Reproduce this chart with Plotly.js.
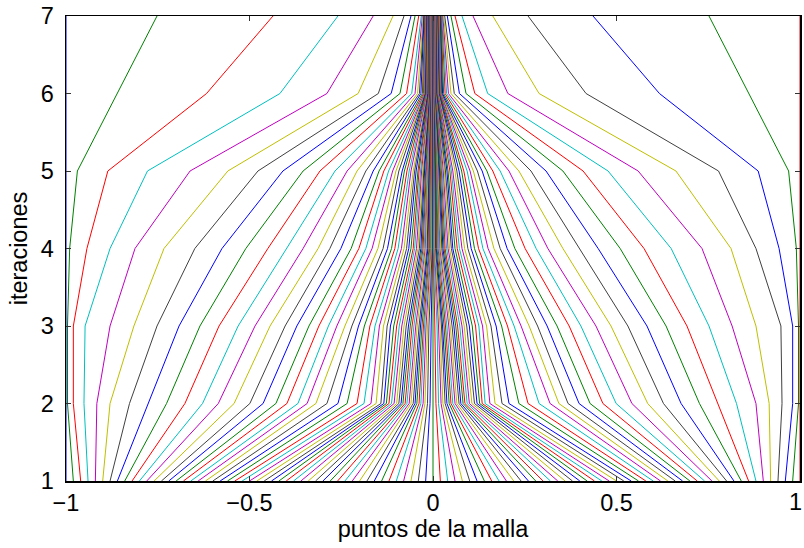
<!DOCTYPE html>
<html>
<head>
<meta charset="utf-8">
<script src="https://cdn.plot.ly/plotly-3.0.1.min.js"></script>
<style>html,body{margin:0;padding:0;background:#fff;}#chart{width:804px;height:548px;}</style>
</head>
<body>
<div id="chart"></div>
<script>
// Mesh point positions (left half, points 0..50; right half is the mirror image)
var iterations = [1, 2, 3, 4, 5, 6, 7];

var it1 = [-1, -0.98, -0.96, -0.94, -0.92, -0.90, -0.88, -0.86, -0.84, -0.82,
  -0.80, -0.78, -0.76, -0.74, -0.72, -0.70, -0.68, -0.66, -0.64, -0.62,
  -0.60, -0.58, -0.56, -0.54, -0.52, -0.50, -0.48, -0.46, -0.44, -0.42,
  -0.40, -0.38, -0.36, -0.34, -0.32, -0.30, -0.28, -0.26, -0.24, -0.22,
  -0.20, -0.18, -0.16, -0.14, -0.12, -0.10, -0.08, -0.06, -0.04, -0.02, 0];

var it2 = [-1, -0.996, -0.980, -0.951, -0.916, -0.880, -0.827, -0.776, -0.726, -0.676,
  -0.628, -0.585, -0.542, -0.499, -0.463, -0.428, -0.398, -0.368, -0.343, -0.319,
  -0.289, -0.259, -0.234, -0.207, -0.188, -0.169, -0.155, -0.142, -0.134, -0.127,
  -0.120, -0.113, -0.106, -0.099, -0.093, -0.087, -0.082, -0.076, -0.071, -0.065,
  -0.060, -0.054, -0.049, -0.044, -0.038, -0.033, -0.027, -0.022, -0.015, -0.008, 0];

var it3 = [-1, -0.996, -0.980, -0.948, -0.880, -0.815, -0.752, -0.692, -0.635, -0.583,
  -0.531, -0.485, -0.444, -0.403, -0.371, -0.338, -0.311, -0.285, -0.262, -0.240,
  -0.221, -0.203, -0.187, -0.172, -0.158, -0.146, -0.135, -0.125, -0.116, -0.107,
  -0.099, -0.092, -0.085, -0.079, -0.073, -0.067, -0.062, -0.057, -0.052, -0.047,
  -0.043, -0.038, -0.034, -0.030, -0.026, -0.023, -0.019, -0.015, -0.011, -0.005, 0];

var it4 = [-1, -0.990, -0.943, -0.880, -0.812, -0.733, -0.649, -0.575, -0.510, -0.450,
  -0.398, -0.354, -0.313, -0.281, -0.251, -0.223, -0.202, -0.183, -0.166, -0.150,
  -0.136, -0.124, -0.113, -0.104, -0.095, -0.086, -0.079, -0.072, -0.066, -0.060,
  -0.054, -0.050, -0.045, -0.041, -0.037, -0.033, -0.030, -0.027, -0.024, -0.021,
  -0.019, -0.016, -0.014, -0.011, -0.009, -0.007, -0.005, -0.004, -0.002, -0.001, 0];

var it5 = [-1, -0.969, -0.886, -0.778, -0.662, -0.559, -0.477, -0.409, -0.354, -0.308,
  -0.267, -0.234, -0.207, -0.183, -0.163, -0.147, -0.134, -0.121, -0.110, -0.101,
  -0.093, -0.084, -0.078, -0.071, -0.065, -0.060, -0.054, -0.050, -0.046, -0.041,
  -0.038, -0.034, -0.031, -0.028, -0.025, -0.023, -0.020, -0.018, -0.016, -0.014,
  -0.013, -0.011, -0.010, -0.008, -0.007, -0.005, -0.004, -0.003, -0.002, -0.001, 0];

var it6 = [-1, -0.861, -0.617, -0.417, -0.289, -0.204, -0.149, -0.114, -0.090, -0.072,
  -0.058, -0.049, -0.042, -0.037, -0.033, -0.029, -0.026, -0.024, -0.023, -0.022,
  -0.021, -0.020, -0.019, -0.018, -0.017, -0.016, -0.015, -0.014, -0.013, -0.012,
  -0.011, -0.010, -0.0095, -0.009, -0.0085, -0.008, -0.0075, -0.007, -0.0065, -0.006,
  -0.0055, -0.005, -0.0045, -0.004, -0.0035, -0.003, -0.0025, -0.002, -0.0013, -0.0007, 0];

var it7 = [-1, -0.752, -0.436, -0.259, -0.163, -0.109, -0.079, -0.060, -0.049, -0.039,
  -0.032, -0.029, -0.027, -0.025, -0.024, -0.022, -0.021, -0.020, -0.019, -0.018,
  -0.017, -0.016, -0.015, -0.014, -0.013, -0.0125, -0.012, -0.0115, -0.011, -0.0105,
  -0.010, -0.0095, -0.009, -0.0085, -0.008, -0.0075, -0.007, -0.0065, -0.006, -0.0055,
  -0.005, -0.0045, -0.004, -0.0035, -0.003, -0.0025, -0.002, -0.0015, -0.001, -0.0005, 0];

var xTickVals = [-1, -0.5, 0, 0.5, 1];
var xTickText = ['\u22121', '\u22120.5', '0', '0.5', ''];
var xLastTickLabel = '1';
var yTickVals = [1, 2, 3, 4, 5, 6, 7];

var lineColors = ['#0000ff', '#008000', '#ff0000', '#00bfbf', '#bf00bf', '#bfbf00', '#404040'];

function full(half) {
  var right = half.slice(0, half.length - 1).reverse().map(function (v) { return -v; });
  return half.concat(right);
}
var halves = [it1, it2, it3, it4, it5, it6, it7];
var fulls = halves.map(full);
var nPts = fulls[0].length;

var traces = [];
for (var j = 0; j < nPts; j++) {
  traces.push({
    type: 'scatter',
    mode: 'lines',
    x: fulls.map(function (f) { return f[j]; }),
    y: iterations,
    line: { color: lineColors[j % lineColors.length], width: 1 },
    hoverinfo: 'skip',
    showlegend: false
  });
}

var font = { family: 'Liberation Sans, Arial, sans-serif', size: 23.5, color: '#000' };

var layout = {
  width: 804,
  height: 548,
  margin: { l: 66, r: 4, t: 16, b: 67 },
  paper_bgcolor: '#fff',
  plot_bgcolor: '#fff',
  font: font,
  showlegend: false,
  xaxis: {
    range: [-1, 1],
    tickvals: xTickVals,
    ticktext: xTickText,
    ticks: 'inside',
    ticklen: 5,
    tickcolor: '#333',
    showline: true,
    linecolor: '#000',
    linewidth: 1.5,
    mirror: 'allticks',
    showgrid: false,
    zeroline: false,
    tickfont: font,
    ticklabeloverflow: 'allow',
    ticklabelstandoff: 0,
    title: { text: 'puntos de la malla', font: font, standoff: 0 }
  },
  yaxis: {
    range: [1, 7],
    tickvals: yTickVals,
    ticks: 'inside',
    ticklen: 5,
    tickcolor: '#333',
    showline: true,
    linecolor: '#000',
    linewidth: 1.5,
    mirror: 'allticks',
    showgrid: false,
    zeroline: false,
    tickfont: font,
    ticklabeloverflow: 'allow',
    ticklabelstandoff: 6,
    title: { text: 'iteraciones', font: font, standoff: 6 }
  },
  annotations: [{
    x: xTickVals[xTickVals.length - 1], xref: 'x',
    y: 0, yref: 'paper',
    text: xLastTickLabel,
    showarrow: false,
    xanchor: 'right', yanchor: 'top',
    xshift: 3, yshift: -7,
    borderpad: 0,
    font: font
  }]
};

Plotly.newPlot('chart', traces, layout, { displayModeBar: false, staticPlot: true });
</script>
</body>
</html>
